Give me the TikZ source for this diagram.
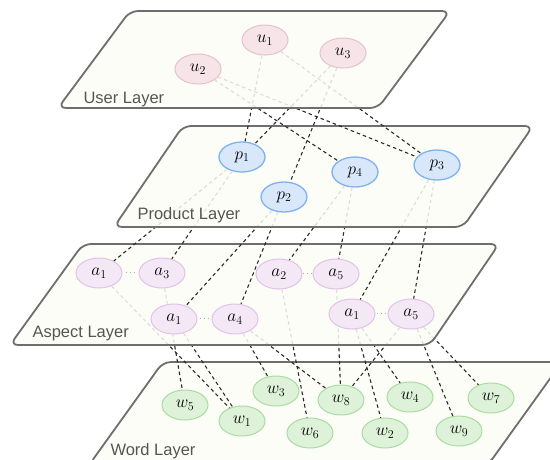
\documentclass[tikz,border=0pt]{standalone}
\usepackage{fontspec}
\newfontfamily\layerfont{Liberation Sans}
\usetikzlibrary{shapes.geometric}
\usetikzlibrary{positioning}
\usetikzlibrary{calc}

\definecolor{planefill}{HTML}{FDFDF6}
\definecolor{planeline}{HTML}{6E6E6E}
\definecolor{labelgray}{HTML}{555555}
\definecolor{linkgray}{HTML}{2A2A2A}
\definecolor{userfill}{HTML}{F6E4E8}
\definecolor{userline}{HTML}{E3C3CD}
\definecolor{prodfill}{HTML}{D9E7FA}
\definecolor{prodline}{HTML}{7FB2F0}
\definecolor{aspfill}{HTML}{F4E7F6}
\definecolor{aspline}{HTML}{E0C3E5}
\definecolor{wordfill}{HTML}{DDF2D9}
\definecolor{wordline}{HTML}{A9DCA1}

\tikzset{
  plane/.style={draw=planeline, line width=1.8pt, rounded corners=8pt,
    fill=planefill, fill opacity=0.85},
  layername/.style={anchor=base west, text=labelgray,
    font=\layerfont\fontsize{16.5}{18}\selectfont},
  var/.style={ellipse, minimum width=46pt, minimum height=30pt, inner sep=0pt,
    line width=1pt, font=\fontsize{17.28}{20}\selectfont},
  user/.style={var, draw=userline, fill=userfill},
  prod/.style={var, draw=prodline, fill=prodfill, line width=1.3pt},
  asp/.style={var, draw=aspline, fill=aspfill},
  word/.style={var, draw=wordline, fill=wordfill},
  gap/.style={inner sep=0pt, font=\fontsize{7}{8}\selectfont},
  link/.style={draw=linkgray, line width=1.1pt, dash pattern=on 3.5pt off 3pt},
}

\pgfdeclarelayer{wordl}
\pgfdeclarelayer{wordlinks}
\pgfdeclarelayer{aspectl}
\pgfdeclarelayer{aspectlinks}
\pgfdeclarelayer{productl}
\pgfdeclarelayer{productlinks}
\pgfsetlayers{wordl,wordlinks,aspectl,aspectlinks,productl,productlinks,main}

\begin{document}
\begin{tikzpicture}[x=1pt, y=-1pt]
  \useasboundingbox (0,0) rectangle (550,459);

  % Word layer
  \begin{pgfonlayer}{wordl}
    \draw[plane] (163,362) -- (562,362) -- (488,465) -- (89,465) -- cycle;
    \node[layername] (wordname) at (107,455) {Word Layer};
    \node[word] (w5) at (185,405) {$w_5$};
    \node[word] (w1) at (242,421) {$w_1$};
    \node[word] (w3) at (276,391) {$w_3$};
    \node[word] (w6) at (310,433) {$w_6$};
    \node[word] (w8) at (341,400) {$w_8$};
    \node[word] (w2) at (385,433) {$w_2$};
    \node[word] (w4) at (410,397) {$w_4$};
    \node[word] (w9) at (459,431) {$w_9$};
    \node[word] (w7) at (491,398) {$w_7$};
  \end{pgfonlayer}

  % Aspect layer
  \begin{pgfonlayer}{aspectl}
    \draw[plane] (83,244) -- (499,244) -- (430,345) -- (10,345) -- cycle;
    \node[layername] (aspectname) at (29,337) {Aspect Layer};
    \node[asp] (a1) at (99,273) {$a_1$};
    \node[asp, right=16pt of a1] (a3) {$a_3$};
    \node[asp] (a2) at (279,274) {$a_2$};
    \node[asp, right=10pt of a2] (a5) {$a_5$};
    \node[asp] (a1b) at (174,319) {$a_1$};
    \node[asp, right=14pt of a1b] (a4) {$a_4$};
    \node[asp] (a1c) at (352,314) {$a_1$};
    \node[asp, right=12pt of a1c] (a5c) {$a_5$};
    \foreach \l/\r in {a1/a3, a2/a5, a1b/a4, a1c/a5c}
      \node[gap] at ($(\l.east)!.5!(\r.west)$) {$\cdots$};
  \end{pgfonlayer}

  % Product layer
  \begin{pgfonlayer}{productl}
    \draw[plane] (183,126) -- (533,126) -- (463,227) -- (114,227) -- cycle;
    \node[layername] (productname) at (134,219) {Product Layer};
    \node[prod] (p1) at (242,157) {$p_1$};
    \node[prod] (p2) at (284,197) {$p_2$};
    \node[prod] (p4) at (355,172) {$p_4$};
    \node[prod] (p3) at (437,165) {$p_3$};
  \end{pgfonlayer}

  % User layer
  \draw[plane] (130,11) -- (450,11) -- (378,108) -- (58,108) -- cycle;
  \node[layername] (username) at (80,103) {User Layer};
  \node[user] (u1) at (265,40) {$u_1$};
  \node[user] (u2) at (198,69) {$u_2$};
  \node[user] (u3) at (343,53) {$u_3$};

  % Connect the nodes
  \begin{pgfonlayer}{productlinks}
    \foreach \a/\b in {u1/p1, u1/p3, u2/p4, u2/p3, u3/p1, u3/p2}
      \draw[link] (\a) -- (\b);
  \end{pgfonlayer}
  \begin{pgfonlayer}{aspectlinks}
    \foreach \a/\b in {p1/a1, p1/a3, p2/a1b, p2/a4, p4/a2, p4/a5, p3/a1c, p3/a5c}
      \draw[link] (\a) -- (\b);
  \end{pgfonlayer}
  \begin{pgfonlayer}{wordlinks}
    \foreach \a/\b in {a1/w1, a3/w5, a1b/w1, a4/w3, a4/w8, a2/w6,
                       a5/w8, a1c/w2, a1c/w4, a5c/w8, a5c/w9, a5c/w7}
      \draw[link] (\a) -- (\b);
  \end{pgfonlayer}
\end{tikzpicture}
\end{document}
